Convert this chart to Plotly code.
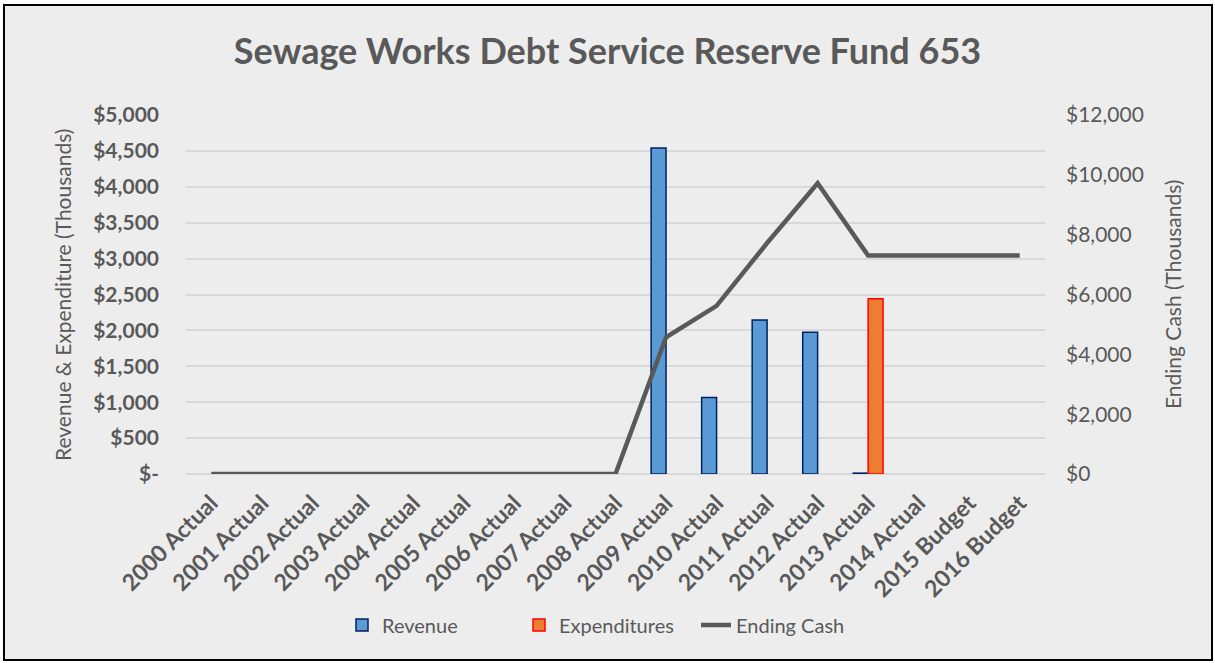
import plotly.graph_objects as go

categories = ["2000 Actual", "2001 Actual", "2002 Actual", "2003 Actual", "2004 Actual",
              "2005 Actual", "2006 Actual", "2007 Actual", "2008 Actual", "2009 Actual",
              "2010 Actual", "2011 Actual", "2012 Actual", "2013 Actual", "2014 Actual",
              "2015 Budget", "2016 Budget"]
# blank cells (no bar drawn) are None
revenue = [None, None, None, None, None, None, None, None, None, 4540, 1065, 2145, 1975, 12,
           None, None, None]
expenditures = [None, None, None, None, None, None, None, None, None, None, None, None, None,
                2440, None, None, None]
ending_cash = [0, 0, 0, 0, 0, 0, 0, 0, 0, 4570, 5620, 7720, 9720, 7300, 7300, 7300, 7300]

left_tickvals = [0, 500, 1000, 1500, 2000, 2500, 3000, 3500, 4000, 4500, 5000]
left_ticktext = ["$-", "$500", "$1,000", "$1,500", "$2,000", "$2,500", "$3,000",
                 "$3,500", "$4,000", "$4,500", "$5,000"]
right_tickvals = [0, 2000, 4000, 6000, 8000, 10000, 12000]
right_ticktext = ["$0", "$2,000", "$4,000", "$6,000", "$8,000", "$10,000", "$12,000"]

FONT = "Lato"
GREY = "#595959"
BG = "#EDEDED"

fig = go.Figure()
fig.add_trace(go.Bar(
    x=categories, y=revenue, name="Revenue",
    marker=dict(color="#5B9BD5", line=dict(color="#002060", width=1.5)),
))
fig.add_trace(go.Bar(
    x=categories, y=expenditures, name="Expenditures",
    marker=dict(color="#ED7D31", line=dict(color="#FF0000", width=1.5)),
))
fig.add_trace(go.Scatter(
    x=categories, y=ending_cash, name="Ending Cash", mode="lines",
    line=dict(color=GREY, width=4.5), yaxis="y2",
))

L, R, T, B = 186, 170, 115, 189
W, H = 1215, 663
pw, ph = W - L - R, H - T - B

def px_to_paper_x(px):
    return (px - L) / pw

def px_to_paper_y(py):
    return (H - B - py) / ph

fig.update_layout(
    width=W, height=H,
    margin=dict(l=L, r=R, t=T, b=B, autoexpand=False),
    paper_bgcolor="white",
    plot_bgcolor=BG,
    barmode="group",
    bargap=0.41,
    bargroupgap=0,
    font=dict(family=FONT, color=GREY),
    title=dict(
        text="<b>Sewage Works Debt Service Reserve Fund 653</b>",
        font=dict(family=FONT, size=36, color=GREY),
        x=0.5, xanchor="center", y=1 - 51 / H, yanchor="middle",
    ),
    xaxis=dict(
        type="category",
        tickangle=-45,
        tickfont=dict(family=FONT, size=23, color=GREY, weight="bold"),
        showgrid=False, showline=False, ticks="",
        ticklabelstandoff=10,
        automargin=False,
    ),
    yaxis=dict(
        range=[0, 5000],
        tickvals=left_tickvals, ticktext=left_ticktext,
        tickfont=dict(family=FONT, size=21, color=GREY, weight="bold"),
        showgrid=True, gridcolor="#D9D9D9", gridwidth=2,
        zeroline=True, zerolinecolor="#D9D9D9", zerolinewidth=2,
        showline=False, ticks="",
        ticklabelstandoff=26,
        automargin=False,
    ),
    yaxis2=dict(
        range=[0, 12000], overlaying="y", side="right",
        tickvals=right_tickvals, ticktext=right_ticktext,
        tickfont=dict(family=FONT, size=21, color=GREY),
        showgrid=False, zeroline=False, showline=False, ticks="",
        ticklabelstandoff=20,
        automargin=False,
    ),
    legend=dict(
        orientation="h",
        x=0.5, xref="container", xanchor="center",
        y=px_to_paper_y(625), yanchor="middle",
        font=dict(family=FONT, size=20, color=GREY),
        bgcolor="rgba(0,0,0,0)",
        entrywidth=132, entrywidthmode="pixels",
    ),
    annotations=[
        dict(text="Revenue & Expenditure (Thousands)", textangle=-90,
             xref="paper", yref="paper", showarrow=False,
             x=px_to_paper_x(62), y=px_to_paper_y(295),
             xanchor="center", yanchor="middle",
             font=dict(family=FONT, size=21, color=GREY)),
        dict(text="Ending Cash (Thousands)", textangle=-90,
             xref="paper", yref="paper", showarrow=False,
             x=px_to_paper_x(1172), y=px_to_paper_y(295),
             xanchor="center", yanchor="middle",
             font=dict(family=FONT, size=21, color=GREY)),
    ],
    shapes=[dict(
        type="rect", xref="paper", yref="paper", layer="below",
        x0=px_to_paper_x(4), x1=px_to_paper_x(1212),
        y0=px_to_paper_y(660), y1=px_to_paper_y(5),
        fillcolor=BG, line=dict(color="black", width=2),
    )],
)

fig.write_html("out.html",
               config={"displayModeBar": False},
               post_script="document.body.style.margin='0';document.body.style.padding='0';")
